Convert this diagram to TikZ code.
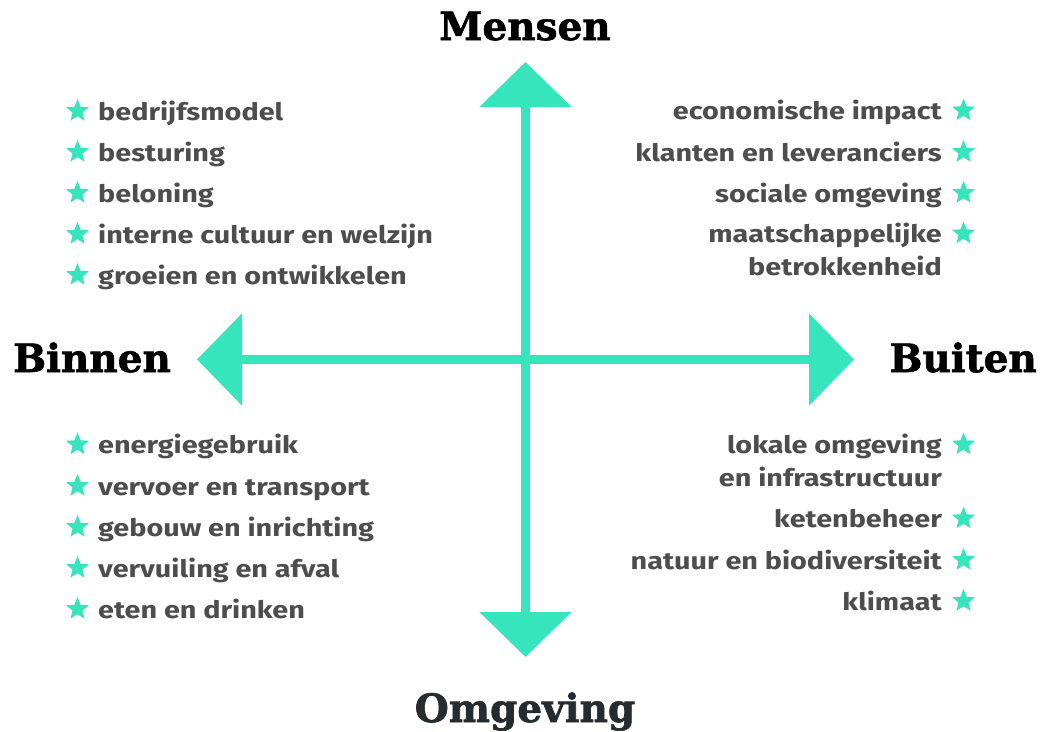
\documentclass[tikz,border=0pt]{standalone}
\usepackage{fontspec}
\usetikzlibrary{arrows.meta,shapes.geometric}
\newfontfamily\headfont{DejaVu Serif}[BoldFont={* Bold},BoldFeatures={FakeBold=1.6}]
\newfontfamily\bodyfont{Fira Sans}[BoldFont={* Bold},FakeStretch=1.2]
\definecolor{teal}{HTML}{36E5BB}
\definecolor{txtgrey}{HTML}{4D4D4D}
\definecolor{headdark}{HTML}{252B2E}
\tikzset{
  axis/.style={draw=teal, line width=9.5pt,
    {Triangle[length=45pt,width=90pt]}-{Triangle[length=45pt,width=90pt]}},
  heading/.style={inner sep=0pt, font=\headfont\bfseries\fontsize{39}{42}\selectfont, text=black},
  item/.style={inner sep=0pt, font=\bodyfont\bfseries\fontsize{24}{33}\selectfont, text=txtgrey},
  litem/.style={item, anchor=base west},
  ritem/.style={item, anchor=base east, align=right},
  starmark/.style={star, star points=5, star point ratio=2.3, fill=teal, draw=none,
    minimum size=24pt, inner sep=0pt}
}
\begin{document}
\begin{tikzpicture}[x=1pt,y=-1pt]
\useasboundingbox[fill=white] (0,0) rectangle (1040,731);
% axes
\coordinate (N) at (525.5,62);
\coordinate (S) at (525.5,657);
\coordinate (W) at (197,359.5);
\coordinate (E) at (854,359.5);
\draw[axis] (S) -- (N);
\draw[axis] (W) -- (E);
% headings
\node[heading, anchor=base] (mensen) at (525,40) {Mensen};
\node[heading, anchor=base west] (binnen) at (13,372) {Binnen};
\node[heading, anchor=base east] (buiten) at (1037,372) {Buiten};
\node[heading, anchor=base, text=headdark] (omgeving) at (525,722) {Omgeving};
% top-left
\node[litem] (tl1) at (98,120) {bedrijfsmodel};
\node[litem] (tl2) at (98,161) {besturing};
\node[litem] (tl3) at (98,202) {beloning};
\node[litem] (tl4) at (98,243) {interne cultuur en welzijn};
\node[litem] (tl5) at (98,284) {groeien en ontwikkelen};
\foreach \y [count=\i] in {120,161,202,243,284}
  \node[starmark] (tls\i) at (77.5,\y-9) {};
% bottom-left
\node[litem] (bl1) at (98,453.5) {energiegebruik};
\node[litem] (bl2) at (98,495) {vervoer en transport};
\node[litem] (bl3) at (98,536) {gebouw en inrichting};
\node[litem] (bl4) at (98,577) {vervuiling en afval};
\node[litem] (bl5) at (98,618) {eten en drinken};
\foreach \y [count=\i] in {453.5,495,536,577,618}
  \node[starmark] (bls\i) at (77.5,\y-9) {};
% top-right
\node[ritem] (tr1) at (942,119.5) {economische impact};
\node[ritem] (tr2) at (942,161) {klanten en leveranciers};
\node[ritem] (tr3) at (942,202) {sociale omgeving};
\node[ritem] (tr4) at (942,275.5) {maatschappelijke\\betrokkenheid};
\foreach \y [count=\i] in {119.5,161,202,242.5}
  \node[starmark] (trs\i) at (963.5,\y-9) {};
% bottom-right
\node[ritem] (br1) at (942,486) {lokale omgeving\\en infrastructuur};
\node[ritem] (br2) at (942,527.5) {ketenbeheer};
\node[ritem] (br3) at (942,569) {natuur en biodiversiteit};
\node[ritem] (br4) at (942,610) {klimaat};
\foreach \y [count=\i] in {453.5,527.5,569,610}
  \node[starmark] (brs\i) at (963.5,\y-9) {};
\end{tikzpicture}
\end{document}
